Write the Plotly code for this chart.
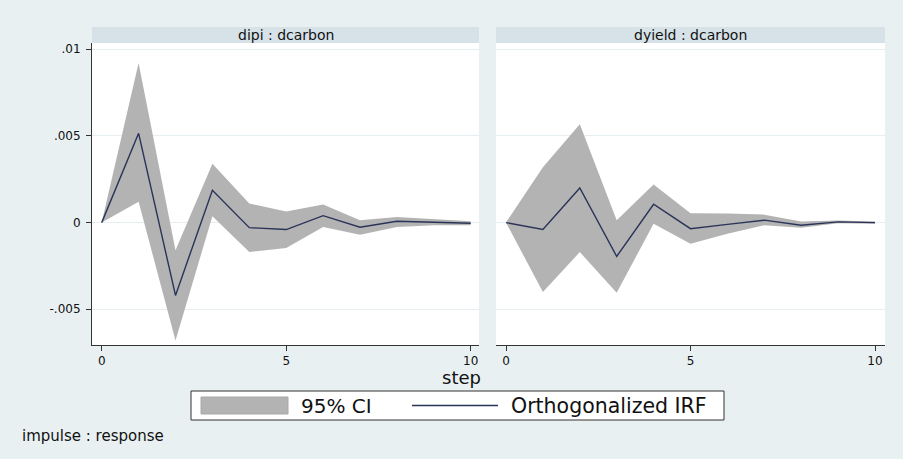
import plotly.graph_objects as go

# Orthogonalized impulse responses (impulse: dcarbon) with 95% confidence bands
steps = list(range(11))

panel_titles = ["dipi : dcarbon", "dyield : dcarbon"]

dipi_irf = [0.0, 0.00515, -0.0042, 0.00187, -0.00029, -0.0004, 0.0004, -0.00027, 0.00008, 0.00004, -0.00004]
dipi_upper = [0.0, 0.0092, -0.0016, 0.0034, 0.0011, 0.00064, 0.00104, 0.00014, 0.00033, 0.0002, 0.00008]
dipi_lower = [0.0, 0.0012, -0.0068, 0.00037, -0.0017, -0.00147, -0.00025, -0.0007, -0.00025, -0.00015, -0.00015]

dyield_irf = [0.0, -0.0004, 0.002, -0.00195, 0.00106, -0.00035, -0.0001, 0.00014, -0.00015, 0.00004, 0.0]
dyield_upper = [0.0, 0.0032, 0.00568, 0.00014, 0.0022, 0.00054, 0.00052, 0.00046, 0.00006, 0.00012, 0.00006]
dyield_lower = [0.0, -0.004, -0.0017, -0.00405, -0.00006, -0.00122, -0.00064, -0.00015, -0.00029, -0.00004, -0.00006]

y_tickvals = [-0.005, 0, 0.005, 0.01]
y_ticktext = ["-.005", "0", ".005", ".01"]
x_tickvals = [0, 5, 10]

legend_labels = ["95% CI", "Orthogonalized IRF"]
x_title = "step"
note = "impulse : response"

W, H = 903, 459
BG = "#e9f0f2"
STRIP = "#d6e1e8"
GRID = "#e6eef1"
BAND = "#b3b3b3"
LINE = "#2a3358"
TEXT = "#111111"
FONT = "DejaVu Sans, Liberation Sans, Arial, sans-serif"

def px(x):
    return x / W

def py(y):
    return 1 - y / H

panels = [
    (dipi_irf, dipi_upper, dipi_lower),
    (dyield_irf, dyield_upper, dyield_lower),
]

fig = go.Figure()
for i, (irf, up, lo) in enumerate(panels):
    xa = "x" if i == 0 else "x2"
    ya = "y" if i == 0 else "y2"
    fig.add_trace(go.Scatter(
        x=steps + steps[::-1], y=up + lo[::-1],
        fill="toself", fillcolor=BAND, mode="lines",
        line=dict(width=0, color=BAND), hoverinfo="skip",
        xaxis=xa, yaxis=ya, showlegend=False,
    ))
    fig.add_trace(go.Scatter(
        x=steps, y=irf, mode="lines",
        line=dict(color=LINE, width=1.4),
        xaxis=xa, yaxis=ya, showlegend=False,
    ))

# panel geometry (pixels)
left_dom = (92, 479)
right_dom = (496, 885)
plot_top, plot_bottom = 43, 345
strip_top = 27
step_px = 36.9

y_range = [-0.00706, 0.01036]

def xrange_for(dom, zero_px):
    return [(dom[0] - zero_px) / step_px, (dom[1] - zero_px) / step_px]

common_x = dict(
    tickvals=x_tickvals, ticks="outside", ticklen=5, tickwidth=1,
    tickcolor="#333333", showline=True, linecolor="#333333", linewidth=1,
    showgrid=False, zeroline=False,
    tickfont=dict(family=FONT, size=12, color=TEXT),
)
common_y = dict(
    range=y_range, tickvals=y_tickvals, showgrid=True, gridcolor=GRID,
    gridwidth=1, zeroline=False,
)

fig.update_layout(
    width=W, height=H,
    margin=dict(l=0, r=0, t=0, b=0),
    paper_bgcolor=BG, plot_bgcolor="white",
    font=dict(family=FONT, color=TEXT),
    showlegend=False,
    xaxis=dict(domain=[px(left_dom[0]), px(left_dom[1])],
               range=xrange_for(left_dom, 101.7), anchor="y", **common_x),
    xaxis2=dict(domain=[px(right_dom[0]), px(right_dom[1])],
                range=xrange_for(right_dom, 506), anchor="y2", **common_x),
    yaxis=dict(domain=[py(plot_bottom), py(plot_top)], anchor="x",
               ticktext=y_ticktext, ticks="outside", ticklen=5,
               ticklabelstandoff=3,
               tickcolor="#333333", showline=True, linecolor="#333333",
               linewidth=1, tickfont=dict(family=FONT, size=12, color=TEXT),
               **common_y),
    yaxis2=dict(domain=[py(plot_bottom), py(plot_top)], anchor="x2",
                showticklabels=False, ticks="", showline=False, **common_y),
)

shapes = []
annotations = []

# panel header strips
for dom, title in zip([left_dom, right_dom], panel_titles):
    shapes.append(dict(type="rect", xref="paper", yref="paper",
                       x0=px(dom[0]), x1=px(dom[1]), y0=py(plot_top), y1=py(strip_top),
                       fillcolor=STRIP, line=dict(width=0), layer="below"))
    annotations.append(dict(text=title, xref="paper", yref="paper",
                            x=px((dom[0] + dom[1]) / 2), y=py((strip_top + plot_top) / 2),
                            xanchor="center", yanchor="middle", showarrow=False,
                            font=dict(family=FONT, size=14, color=TEXT)))

# common x-axis title
annotations.append(dict(text=x_title, xref="paper", yref="paper",
                        x=px(461), y=py(377), xanchor="center", yanchor="middle",
                        showarrow=False, font=dict(family=FONT, size=18, color=TEXT)))

# legend box
lg_top, lg_bot = 391, 420
shapes.append(dict(type="rect", xref="paper", yref="paper",
                   x0=px(191), x1=px(724), y0=py(lg_bot), y1=py(lg_top),
                   fillcolor="white", line=dict(color="#333333", width=1)))
shapes.append(dict(type="rect", xref="paper", yref="paper",
                   x0=px(201), x1=px(288), y0=py(414), y1=py(397),
                   fillcolor=BAND, line=dict(color="#a8a8a8", width=1)))
annotations.append(dict(text=legend_labels[0], xref="paper", yref="paper",
                        x=px(299), y=py(405.5), xanchor="left", yanchor="middle",
                        showarrow=False, font=dict(family=FONT, size=20, color=TEXT)))
shapes.append(dict(type="line", xref="paper", yref="paper",
                   x0=px(412), x1=px(498), y0=py(405.5), y1=py(405.5),
                   line=dict(color=LINE, width=1.4)))
annotations.append(dict(text=legend_labels[1], xref="paper", yref="paper",
                        x=px(509), y=py(405.5), xanchor="left", yanchor="middle",
                        showarrow=False, font=dict(family=FONT, size=20.5, color=TEXT)))

# note
annotations.append(dict(text=note, xref="paper", yref="paper",
                        x=px(20), y=py(436), xanchor="left", yanchor="middle",
                        showarrow=False, font=dict(family=FONT, size=15, color=TEXT)))

fig.update_layout(shapes=shapes, annotations=annotations)
fig.write_html("out.html")
